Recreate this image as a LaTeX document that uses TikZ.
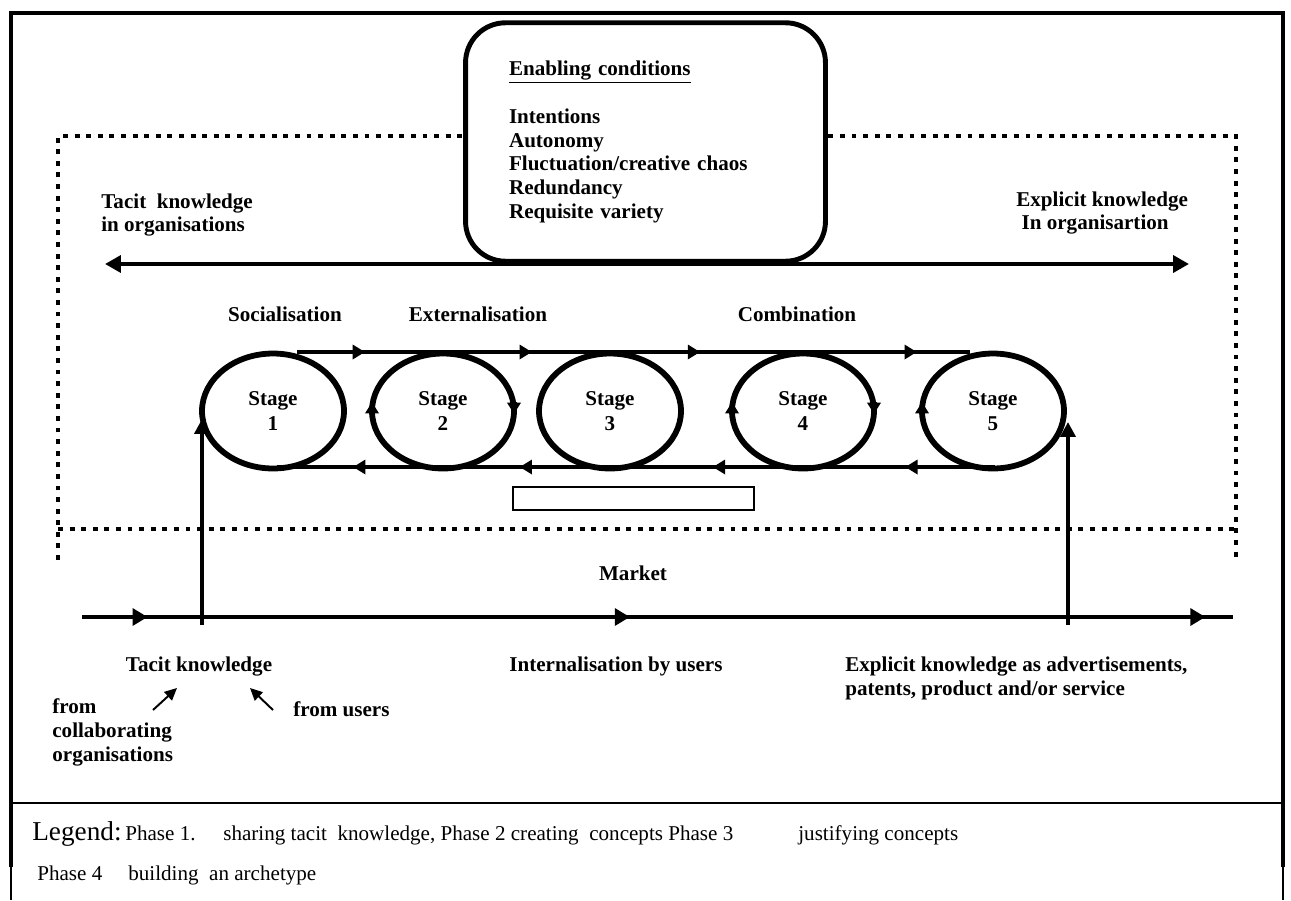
\documentclass[tikz,border=0pt]{standalone}
\usepackage{fontspec}
\setmainfont{Liberation Serif}
\usetikzlibrary{arrows.meta,shapes.geometric,calc,decorations.markings}

\tikzset{
  belthead/.tip={Triangle[length=7pt,width=8pt]},
  markethead/.tip={Triangle[length=8.5pt,width=9.5pt]},
}

\begin{document}
\begin{tikzpicture}[x=0.02cm,y=-0.02cm,
    lbl/.style={font=\fontsize{12}{13.6}\selectfont\bfseries, inner sep=0pt, align=left},
    stagenode/.style={ellipse, draw, line width=3.3pt, minimum width=2.84cm, minimum height=2.3cm,
      inner sep=0pt, outer sep=0pt, align=center, font=\fontsize{12}{14.2}\selectfont\bfseries},
    belt/.style={line width=2.8pt},
    cyctip/.style={line width=3.3pt, -{Triangle[length=6.5pt,width=7.5pt]}},
    bigtip/.style={line width=2.8pt, -{Triangle[length=8.5pt,width=8.5pt]}},
    smalltip/.style={line width=1.1pt, -{Triangle[length=7pt,width=6.5pt]}},
    dotline/.style={line width=2.5pt, dash pattern=on 2.8pt off 3.8pt},
    legendtxt/.style={font=\fontsize{12}{13}\selectfont, inner sep=0pt, anchor=base west}]
  \useasboundingbox (0,0) rectangle (1291,900);

  % frame
  \draw[line width=2.8pt] (11,867) -- (11,13) -- (1283,13) -- (1283,867);
  \draw[line width=1.1pt] (11,803) -- (1283,803);
  \draw[line width=1pt] (11,803) -- (11,900);
  \draw[line width=1pt] (1283,803) -- (1283,900);

  % organisation (dotted)
  \draw[dotline] (58,560) -- (58,136) -- (1236,136) -- (1236,560);
  \draw[dotline] (58,529) -- (1236,529);

  % tacit <-> explicit
  \coordinate (ax-l) at (105,264);
  \coordinate (ax-r) at (1189,264);
  \draw[line width=2.8pt, {Triangle[length=9pt,width=9.5pt]}-{Triangle[length=9pt,width=9.5pt]}] (ax-l) -- (ax-r);

  % enabling conditions
  \node[draw, fill=white, line width=2.8pt, rounded corners=0.8cm, minimum width=7.2cm,
        minimum height=4.77cm, text width=5.46cm, align=left, inner sep=0pt,
        font=\fontsize{12}{13.6}\selectfont\bfseries] (cond) at (645.5,142)
    {\underline{Enabling conditions}\\[13.6pt]
     Intentions\\Autonomy\\Fluctuation/creative chaos\\Redundancy\\Requisite variety};

  \node[lbl, anchor=west] (tacit-org) at (101,215) {Tacit~ knowledge\\in organisations};
  \node[lbl, anchor=west] (expl-org) at (1016,213) {Explicit knowledge\\\hspace*{3pt}In organisartion};

  \node[lbl] (soc) at (285,314) {Socialisation};
  \node[lbl] (ext) at (478,314) {Externalisation};
  \node[lbl] (comb) at (797,314) {Combination};

  % stages
  \foreach \n/\x in {1/273,2/443,3/610,4/803,5/993}
    \node[stagenode] (s\n) at (\x,411) {Stage\\\n};

  % belts
  \coordinate (bt-a) at (297,352);
  \coordinate (bt-b) at (970,352);
  \draw[belt, postaction={decorate}, decoration={markings,
      mark=at position 0.101 with {\arrow{belthead}},
      mark=at position 0.349 with {\arrow{belthead}},
      mark=at position 0.599 with {\arrow{belthead}},
      mark=at position 0.921 with {\arrow{belthead}}}] (bt-a) -- (bt-b);
  \coordinate (bb-a) at (995,467);
  \coordinate (bb-b) at (277,467);
  \draw[belt, postaction={decorate}, decoration={markings,
      mark=at position 0.125 with {\arrow{belthead}},
      mark=at position 0.393 with {\arrow{belthead}},
      mark=at position 0.662 with {\arrow{belthead}},
      mark=at position 0.894 with {\arrow{belthead}}}] (bb-a) -- (bb-b);

  % turning direction
  \foreach \n in {2,4,5}
    \draw[cyctip] ($(s\n.west)+(0,3)$) -- ++(0,-12);
  \foreach \n in {2,4}
    \draw[cyctip] ($(s\n.east)+(0,-9)$) -- ++(0,12);

  \node[draw, line width=0.9pt, minimum width=4.82cm, minimum height=0.46cm, inner sep=0pt] (gap) at (633.5,498.5) {};

  % market
  \node[lbl] (market) at (633,573) {Market};
  \coordinate (mk-l) at (82,617);
  \coordinate (mk-r) at (1233,617);
  \draw[belt, postaction={decorate}, decoration={markings,
      mark=at position 0.057 with {\arrow{markethead}},
      mark=at position 0.476 with {\arrow{markethead}},
      mark=at position 0.976 with {\arrow{markethead}}}] (mk-l) -- (mk-r);

  \coordinate (tk-in) at (202,625);
  \draw[bigtip] (tk-in) -- ($(tk-in |- s1.west)+(0,8)$);
  \coordinate (ek-out) at (1068,625);
  \draw[bigtip] (ek-out) -- ($(ek-out |- s5.east)+(0,11)$);

  \node[lbl] (tk) at (199,666) {Tacit knowledge};
  \node[lbl, anchor=west] (from-col) at (52,732) {from\\collaborating\\organisations};
  \node[lbl, anchor=west] (from-users) at (293,709) {from users};
  \coordinate (col-src) at (153,710);
  \coordinate (usr-src) at (273,710);
  \draw[smalltip] (col-src) -- ($(tk.south)+(-22,12)$);
  \draw[smalltip] (usr-src) -- ($(tk.south)+(51,12)$);

  \node[lbl, anchor=west] (intern) at (509,666) {Internalisation by users};
  \node[lbl, anchor=west] (expl-mkt) at (845,678) {Explicit knowledge as advertisements,\\patents, product and/or service};

  % legend
  \node[legendtxt, font=\fontsize{15.5}{16}\selectfont] (leg) at (32,840) {Legend:};
  \node[legendtxt] (ph1) at (125,840) {Phase 1.};
  \node[legendtxt] (ph1-txt) at (223,840) {sharing tacit~ knowledge, Phase 2 creating~ concepts Phase 3};
  \node[legendtxt] (ph3-txt) at (798,840) {justifying concepts};
  \node[legendtxt] (ph4) at (37,880) {Phase 4};
  \node[legendtxt] (ph4-txt) at (128,880) {building~ an archetype};
\end{tikzpicture}
\end{document}
